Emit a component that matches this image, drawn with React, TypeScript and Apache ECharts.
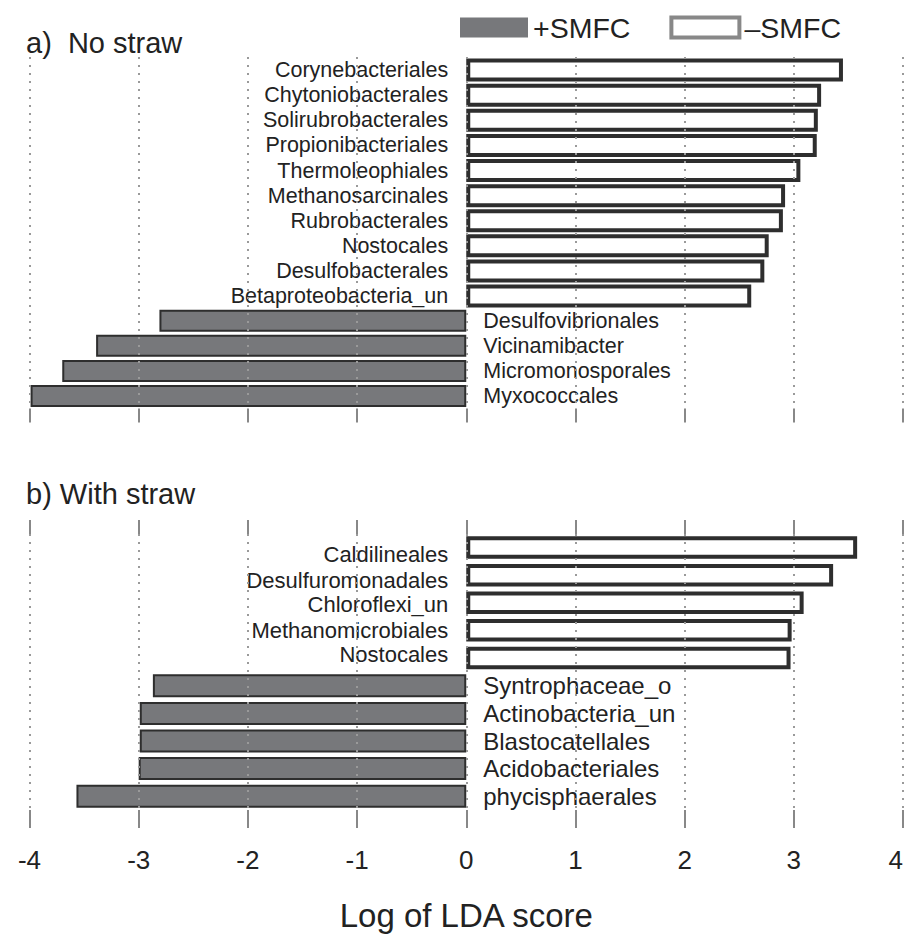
import React, { useEffect, useRef } from "react";
import * as echarts from "echarts";

// Panel a) No straw
const aMinusNames = [
  "Corynebacteriales",
  "Chytoniobacterales",
  "Solirubrobacterales",
  "Propionibacteriales",
  "Thermoleophiales",
  "Methanosarcinales",
  "Rubrobacterales",
  "Nostocales",
  "Desulfobacterales",
  "Betaproteobacteria_un",
];
const aMinusVals = [3.45, 3.25, 3.22, 3.21, 3.06, 2.92, 2.9, 2.77, 2.73, 2.61];
const aPlusNames = ["Desulfovibrionales", "Vicinamibacter", "Micromonosporales", "Myxococcales"];
const aPlusVals = [-2.81, -3.39, -3.7, -3.99];

// Panel b) With straw
const bMinusNames = ["Caldilineales", "Desulfuromonadales", "Chloroflexi_un", "Methanomicrobiales", "Nostocales"];
const bMinusVals = [3.58, 3.36, 3.09, 2.98, 2.97];
const bPlusNames = ["Syntrophaceae_o", "Actinobacteria_un", "Blastocatellales", "Acidobacteriales", "phycisphaerales"];
const bPlusVals = [-2.87, -2.99, -2.99, -3.0, -3.57];

const xTicks = [-4, -3, -2, -1, 0, 1, 2, 3, 4];
const PLUS = "+SMFC";
const MINUS = "\u2013SMFC";
const FONT = "'Liberation Sans', Arial, Helvetica, sans-serif";
const TXT = "#222";
const GRAY = "#77787b";
const DARK = "#2e2e2e";

export default function App() {
  const ref = useRef<HTMLDivElement>(null);
  useEffect(() => {
    if (!ref.current) return;
    const chart = echarts.init(ref.current, undefined, { renderer: "svg" });

    const catsA = [...aMinusNames, ...aPlusNames];
    const catsB = [...bMinusNames, ...bPlusNames];
    const dash = (arr: string[]) => arr.map(() => "-");
    // vertical label nudges for panel b right-hand labels (style only)
    const bMinusLabelDy = [7, 5, 2, 0, -3];

    const valueAxis = (gridIndex: number, extra: any) => ({
      type: "value",
      gridIndex,
      min: xTicks[0],
      max: xTicks[xTicks.length - 1],
      interval: 1,
      z: 5,
      axisLine: { show: false },
      axisTick: { show: true, length: 14, lineStyle: { color: "#888", width: 2 } },
      splitLine: { show: true, lineStyle: { color: "#9a9a9a", width: 2, type: [2, 6] } },
      axisLabel: { show: false },
      ...extra,
    });

    const whiteSeries = (idx: number, data: any[], bw: number, fs: number) => ({
      name: MINUS,
      type: "bar",
      xAxisIndex: idx === 0 ? 0 : 1,
      yAxisIndex: idx,
      data,
      barWidth: bw,
      barGap: "-100%",
      itemStyle: { color: "#fff", borderColor: DARK, borderWidth: 4 },
      label: {
        show: true,
        position: "left",
        distance: 18,
        formatter: "{b}",
        fontSize: fs,
        color: TXT,
        fontFamily: FONT,
      },
    });
    const graySeries = (idx: number, data: any[], bw: number, fs: number) => ({
      name: PLUS,
      type: "bar",
      xAxisIndex: idx === 0 ? 0 : 1,
      yAxisIndex: idx,
      data,
      barWidth: bw,
      barGap: "-100%",
      itemStyle: { color: GRAY, borderColor: DARK, borderWidth: 2 },
      label: {
        show: true,
        position: "right",
        distance: 17,
        formatter: "{b}",
        fontSize: fs,
        color: TXT,
        fontFamily: FONT,
      },
    });

    const bWhiteData = [
      ...bMinusVals.map((v, i) => ({ value: v, label: { offset: [0, bMinusLabelDy[i]] } })),
      ...dash(bPlusNames),
    ];

    chart.setOption({
      animation: false,
      backgroundColor: "#fff",
      textStyle: { fontFamily: FONT },
      legend: {
        left: 460,
        top: 13,
        padding: 0,
        itemWidth: 68,
        itemHeight: 20,
        itemGap: 39,
        icon: "rect",
        textStyle: { fontSize: 28.5, color: TXT, fontFamily: FONT },
        data: [
          { name: PLUS, itemStyle: { color: GRAY, borderWidth: 0 } },
          { name: MINUS, itemStyle: { color: "#fff", borderColor: "#888", borderWidth: 4 } },
        ],
      },
      graphic: [
        { type: "text", left: 26, top: 28, style: { text: "a)  No straw", fontSize: 29, fill: TXT, fontFamily: FONT } },
        { type: "text", left: 26, top: 479, style: { text: "b) With straw", fontSize: 29, fill: TXT, fontFamily: FONT } },
      ],
      grid: [
        { left: 29.5, right: 4, top: 57, height: 351.6, outerBoundsMode: "none", containLabel: false },
        { left: 29.5, right: 4, top: 534, height: 276, outerBoundsMode: "none", containLabel: false },
      ],
      xAxis: [
        valueAxis(0, {}),
        valueAxis(1, {
          axisTick: { show: true, length: 18, lineStyle: { color: "#888", width: 2 } },
          axisLabel: {
            show: true,
            fontSize: 26,
            color: TXT,
            margin: 37,
            fontFamily: FONT,
            alignMaxLabel: "right",
          },
          name: "Log of LDA score",
          nameLocation: "middle",
          nameGap: 89,
          nameTextStyle: { fontSize: 33, color: TXT, fontFamily: FONT },
        }),
        valueAxis(1, {
          position: "top",
          splitLine: { show: false },
          axisTick: { show: true, length: 14, lineStyle: { color: "#888", width: 2 } },
        }),
      ],
      yAxis: [
        {
          type: "category",
          gridIndex: 0,
          inverse: true,
          data: catsA,
          axisLine: { show: false },
          axisTick: { show: false },
          axisLabel: { show: false },
        },
        {
          type: "category",
          gridIndex: 1,
          inverse: true,
          data: catsB,
          axisLine: { show: false },
          axisTick: { show: false },
          axisLabel: { show: false },
        },
      ],
      series: [
        whiteSeries(0, [...aMinusVals, ...dash(aPlusNames)], 23, 21.5),
        graySeries(0, [...dash(aMinusNames), ...aPlusVals], 22, 21.5),
        whiteSeries(1, bWhiteData, 22.5, 22),
        graySeries(1, [...dash(bMinusNames), ...bPlusVals], 23, 24),
      ],
    });
    return () => chart.dispose();
  }, []);

  return (
    <div
      ref={ref}
      style={{ position: "fixed", left: 0, top: 0, width: 907, height: 938, background: "#fff" }}
    />
  );
}
